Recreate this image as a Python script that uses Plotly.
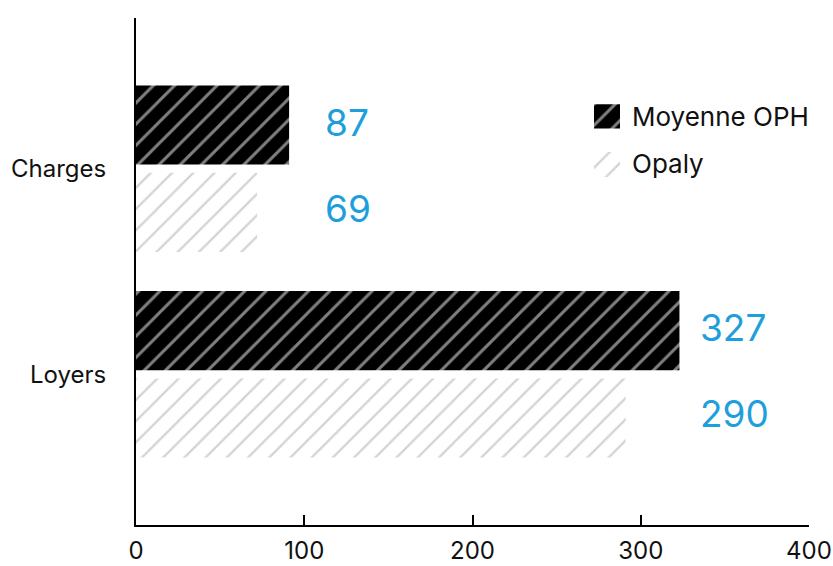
import plotly.graph_objects as go

# ---- data ----
categories = ["Charges", "Loyers"]
series_names = ["Moyenne OPH", "Opaly"]
oph_values = [91, 323]        # bar lengths
opaly_values = [72, 291]
oph_labels = ["87", "327"]    # value labels shown next to the bars
opaly_labels = ["69", "290"]
x_ticks = [0, 100, 200, 300, 400]

FONT = "Inter, Lato, sans-serif"
BLUE = "#1E9FDB"
GRAY = "#a8a8a8"

# label x positions (data units) per category
label_x = [111, 334]

fig = go.Figure()

pat_oph = dict(shape="/", fgcolor="white", bgcolor="black", size=15, solidity=0.2)
pat_opaly = dict(shape="/", fgcolor=GRAY, bgcolor="white", size=15, solidity=0.15)

fig.add_trace(go.Bar(
    y=categories, x=oph_values, orientation="h", name=series_names[0],
    width=0.385, offset=0.02,
    marker=dict(color="black", line=dict(width=0), pattern=pat_oph),
    showlegend=False, hoverinfo="skip",
))
fig.add_trace(go.Bar(
    y=categories, x=opaly_values, orientation="h", name=series_names[1],
    width=0.385, offset=-0.405,
    marker=dict(color="white", line=dict(width=0), pattern=pat_opaly),
    showlegend=False, hoverinfo="skip",
))

# legend swatches on a small overlay axis
fig.add_trace(go.Bar(
    y=[1], x=[1], orientation="h", width=0.515, xaxis="x2", yaxis="y2",
    marker=dict(color="black", line=dict(width=0), pattern=pat_oph),
    showlegend=False, hoverinfo="skip",
))
fig.add_trace(go.Bar(
    y=[0], x=[1], orientation="h", width=0.515, xaxis="x2", yaxis="y2",
    marker=dict(color="white", line=dict(width=0), pattern=pat_opaly),
    showlegend=False, hoverinfo="skip",
))

annotations = []
for i, cat in enumerate(categories):
    annotations.append(dict(x=label_x[i], y=cat, yshift=0.212 * 205.5 + 3, text=oph_labels[i],
                            xref="x", yref="y", xanchor="left", yanchor="middle",
                            showarrow=False, font=dict(family=FONT, size=37, color=BLUE)))
    annotations.append(dict(x=label_x[i], y=cat, yshift=-0.212 * 205.5 + 4, text=opaly_labels[i],
                            xref="x", yref="y", xanchor="left", yanchor="middle",
                            showarrow=False, font=dict(family=FONT, size=37, color=BLUE)))

legend_y = [0.8067, 0.714]
for name, ly in zip(series_names, legend_y):
    annotations.append(dict(x=0.7345, y=ly, xref="paper", yref="paper", text=name,
                            xanchor="left", yanchor="middle", showarrow=False,
                            font=dict(family=FONT, size=26, color="#111111")))

fig.update_layout(
    width=833, height=566,
    margin=dict(l=136, r=24, t=18, b=41),
    paper_bgcolor="white", plot_bgcolor="white",
    barmode="overlay",
    font=dict(family=FONT, color="#111111"),
    xaxis=dict(range=[0, 400], tickvals=x_ticks, showgrid=False, zeroline=False,
               showline=True, linecolor="black", linewidth=2,
               ticks="inside", ticklen=10, tickwidth=2, tickcolor="black",
               tickfont=dict(size=24, family=FONT, color="#111111"),
               ticklabelstandoff=3, automargin=False, fixedrange=True),
    yaxis=dict(categoryorder="array", categoryarray=categories[::-1],
               range=[-0.733, 1.733], showgrid=False, zeroline=False,
               showline=True, linecolor="black", linewidth=2, ticks="",
               tickfont=dict(size=24, family=FONT, color="#111111"),
               ticklabelstandoff=23, automargin=False, fixedrange=True),
    xaxis2=dict(domain=[0.6805, 0.7192], range=[0, 1], visible=False, anchor="y2",
                fixedrange=True),
    yaxis2=dict(domain=[0.6864, 0.830], range=[-0.258, 1.247], visible=False, anchor="x2",
                fixedrange=True),
    annotations=annotations,
)

fig.write_html("out.html")
